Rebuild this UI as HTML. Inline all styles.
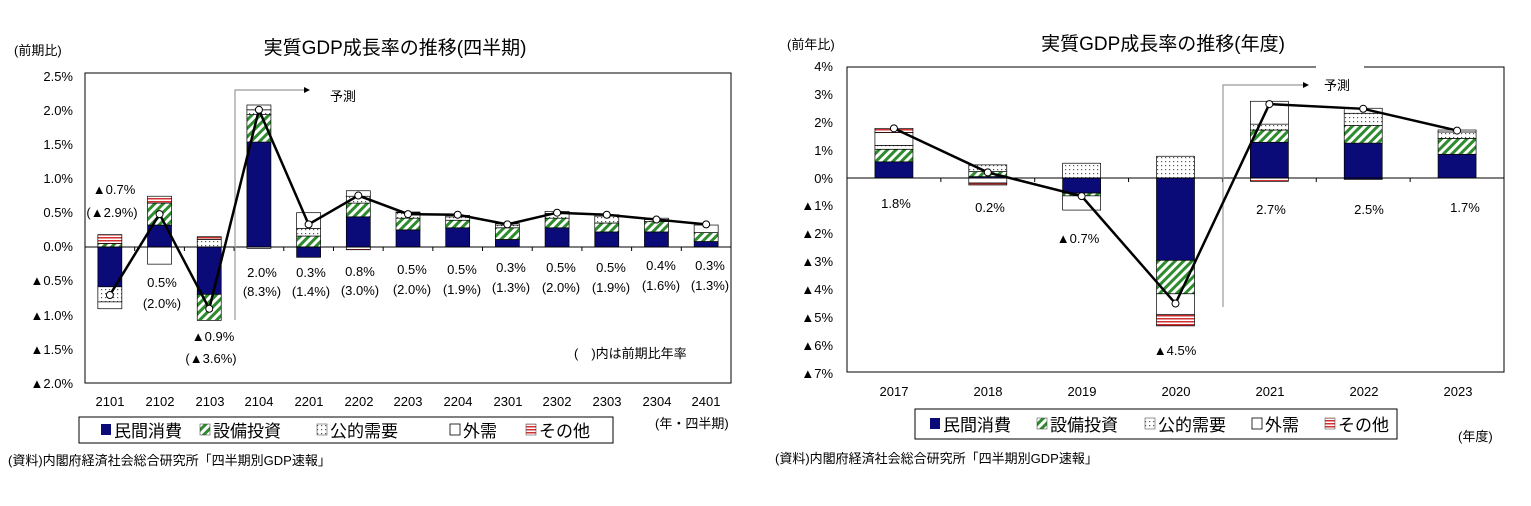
<!DOCTYPE html>
<html><head><meta charset="utf-8">
<style>
html,body{margin:0;padding:0;background:#fff;}
svg{display:block;font-family:"Liberation Sans","Noto Sans CJK JP",sans-serif;}
.t{font-size:13px;fill:#000}
.ti{font-size:19px;fill:#000}
.lg{font-size:17px;fill:#000}
</style></head><body>
<svg id="s" width="1531" height="506" viewBox="0 0 1531 506" xmlns="http://www.w3.org/2000/svg">
<defs>
<pattern id="hg" width="6" height="6" patternUnits="userSpaceOnUse" patternTransform="rotate(45)">
<rect width="6" height="6" fill="#fff"/><rect width="3" height="6" fill="#2e8b2e"/></pattern>
<pattern id="dt" width="4" height="4" patternUnits="userSpaceOnUse">
<rect width="4" height="4" fill="#fff"/><rect x="1" y="1" width="1.2" height="1.2" fill="#555"/></pattern>
<pattern id="rd" width="4" height="3" patternUnits="userSpaceOnUse">
<rect width="4" height="3" fill="#fff"/><rect width="4" height="1.5" fill="#d03030"/></pattern>
</defs>
<g id="L"></g>
<g id="R"></g>

<!-- LEFT texts -->
<text class="ti" x="395" y="54" text-anchor="middle">実質GDP成長率の推移(四半期)</text>
<text class="t" x="14" y="55">(前期比)</text>
<g class="t" text-anchor="end">
<text x="73" y="81">2.5%</text><text x="73" y="115">2.0%</text><text x="73" y="149">1.5%</text>
<text x="73" y="183">1.0%</text><text x="73" y="217">0.5%</text><text x="73" y="251">0.0%</text>
<text x="73" y="285">▲0.5%</text><text x="73" y="320">▲1.0%</text><text x="73" y="354">▲1.5%</text>
<text x="73" y="388">▲2.0%</text>
</g>
<g class="t" text-anchor="middle">
<text x="110" y="406">2101</text><text x="160" y="406">2102</text><text x="210" y="406">2103</text>
<text x="259" y="406">2104</text><text x="309" y="406">2201</text><text x="359" y="406">2202</text>
<text x="408" y="406">2203</text><text x="458" y="406">2204</text><text x="508" y="406">2301</text>
<text x="557" y="406">2302</text><text x="607" y="406">2303</text><text x="657" y="406">2304</text>
<text x="706" y="406">2401</text>
<text x="114" y="194">▲0.7%</text><text x="112" y="217">(▲2.9%)</text>
<text x="162" y="287">0.5%</text><text x="162" y="308">(2.0%)</text>
<text x="213" y="341">▲0.9%</text><text x="211" y="363">(▲3.6%)</text>
<text x="262" y="277">2.0%</text><text x="262" y="296">(8.3%)</text>
<text x="311" y="277">0.3%</text><text x="311" y="296">(1.4%)</text>
<text x="360" y="276">0.8%</text><text x="360" y="295">(3.0%)</text>
<text x="412" y="274">0.5%</text><text x="412" y="294">(2.0%)</text>
<text x="462" y="274">0.5%</text><text x="462" y="294">(1.9%)</text>
<text x="511" y="272">0.3%</text><text x="511" y="292">(1.3%)</text>
<text x="561" y="272">0.5%</text><text x="561" y="292">(2.0%)</text>
<text x="611" y="272">0.5%</text><text x="611" y="292">(1.9%)</text>
<text x="661" y="270">0.4%</text><text x="661" y="290">(1.6%)</text>
<text x="710" y="270">0.3%</text><text x="710" y="290">(1.3%)</text>
</g>
<text class="t" x="574" y="358">(　)内は前期比年率</text>
<text class="t" x="330" y="101">予測</text>
<rect x="79" y="417" width="534" height="26" fill="none" stroke="#000" stroke-width="1"/>
<g class="lg">
<rect x="101" y="424" width="10" height="11" fill="#0a0a78"/><text x="114" y="437">民間消費</text>
<rect x="200" y="424" width="10" height="11" fill="url(#hg)" stroke="#333" stroke-width=".5"/><text x="213" y="437">設備投資</text>
<rect x="317" y="424" width="10" height="11" fill="url(#dt)" stroke="#333" stroke-width=".5"/><text x="330" y="437">公的需要</text>
<rect x="450" y="424" width="10" height="11" fill="#fff" stroke="#000" stroke-width=".8"/><text x="463" y="437">外需</text>
<rect x="526" y="424" width="10" height="11" fill="url(#rd)" stroke="#333" stroke-width=".5"/><text x="539" y="437">その他</text>
</g>
<text class="t" x="655" y="428">(年・四半期)</text>
<text class="t" x="8" y="465">(資料)内閣府経済社会総合研究所「四半期別GDP速報」</text>

<!-- RIGHT texts -->
<text class="ti" x="1163" y="50" text-anchor="middle">実質GDP成長率の推移(年度)</text>
<text class="t" x="787" y="49">(前年比)</text>
<g class="t" text-anchor="end">
<text x="833" y="71">4%</text><text x="833" y="99">3%</text><text x="833" y="127">2%</text>
<text x="833" y="155">1%</text><text x="833" y="183">0%</text><text x="833" y="210">▲1%</text>
<text x="833" y="238">▲2%</text><text x="833" y="266">▲3%</text><text x="833" y="294">▲4%</text>
<text x="833" y="322">▲5%</text><text x="833" y="350">▲6%</text><text x="833" y="378">▲7%</text>
</g>
<g class="t" text-anchor="middle">
<text x="894" y="396">2017</text><text x="988" y="396">2018</text><text x="1082" y="396">2019</text>
<text x="1176" y="396">2020</text><text x="1270" y="396">2021</text><text x="1364" y="396">2022</text>
<text x="1458" y="396">2023</text>
<text x="896" y="208">1.8%</text><text x="990" y="212">0.2%</text><text x="1078" y="243">▲0.7%</text>
<text x="1175" y="355">▲4.5%</text><text x="1271" y="214">2.7%</text><text x="1369" y="214">2.5%</text>
<text x="1465" y="212">1.7%</text>
</g>
<text class="t" x="1324" y="90">予測</text>
<rect x="915" y="409" width="482" height="30" fill="none" stroke="#000" stroke-width="1"/>
<g class="lg">
<rect x="930" y="418" width="10" height="11" fill="#0a0a78"/><text x="943" y="431">民間消費</text>
<rect x="1037" y="418" width="10" height="11" fill="url(#hg)" stroke="#333" stroke-width=".5"/><text x="1050" y="431">設備投資</text>
<rect x="1145" y="418" width="10" height="11" fill="url(#dt)" stroke="#333" stroke-width=".5"/><text x="1158" y="431">公的需要</text>
<rect x="1252" y="418" width="10" height="11" fill="#fff" stroke="#000" stroke-width=".8"/><text x="1265" y="431">外需</text>
<rect x="1325" y="418" width="10" height="11" fill="url(#rd)" stroke="#333" stroke-width=".5"/><text x="1338" y="431">その他</text>
</g>
<text class="t" x="1458" y="441">(年度)</text>
<text class="t" x="775" y="463">(資料)内閣府経済社会総合研究所「四半期別GDP速報」</text>
</svg>
<script>
var NS="http://www.w3.org/2000/svg";
function el(p,n,a){var e=document.createElementNS(NS,n);for(var k in a)e.setAttribute(k,a[k]);p.appendChild(e);return e;}
var F={b:"#0a0a78",g:"url(#hg)",d:"url(#dt)",w:"#fff",r:"url(#rd)"};
function chart(g,x0,x1,y0,y1,zero,px,n,bw,data,line,fc){
 var cw=(x1-x0)/n;
 function Y(v){return zero-v*px;}
 el(g,"rect",{x:x0,y:y0,width:x1-x0,height:y1-y0,fill:"#fff",stroke:"#000","stroke-width":1});
 for(var i=0;i<n;i++){var cx=x0+cw*(i+.5);
  data[i].forEach(function(s){var a=Y(s[1]),b=Y(s[2]);
   el(g,"rect",{x:cx-bw/2,y:Math.min(a,b),width:bw,height:Math.abs(a-b),fill:F[s[0]],stroke:"#000","stroke-width":0.7});});
  el(g,"line",{x1:x0+cw*(i+1),y1:zero,x2:x0+cw*(i+1),y2:zero+4,stroke:"#000"});
 }
 el(g,"line",{x1:x0,y1:zero,x2:x1,y2:zero,stroke:"#000","stroke-width":1});
 el(g,"polyline",{points:fc.v,fill:"none",stroke:"#999","stroke-width":1.2});
 el(g,"polygon",{points:fc.a,fill:"#000"});
 var pts=line.map(function(v,i){return (x0+cw*(i+.5))+","+Y(v);}).join(" ");
 el(g,"polyline",{points:pts,fill:"none",stroke:"#000","stroke-width":2.5});
 line.forEach(function(v,i){el(g,"circle",{cx:x0+cw*(i+.5),cy:Y(v),r:3.5,fill:"#fff",stroke:"#000","stroke-width":1});});
}
chart(document.getElementById("L"),85,731,73,383,247,68.6,13,24,[
 [["g",0,0.05],["r",0.05,0.18],["b",0,-0.58],["d",-0.58,-0.8],["w",-0.8,-0.9]],
 [["b",0,0.32],["g",0.32,0.64],["r",0.64,0.74],["w",0,-0.25]],
 [["d",0,0.11],["r",0.11,0.15],["b",0,-0.69],["g",-0.69,-1.07]],
 [["b",0,1.53],["g",1.53,1.93],["d",1.93,2.0],["w",2.0,2.07],["r",0,-0.02]],
 [["g",0,0.16],["d",0.16,0.27],["w",0.27,0.5],["b",0,-0.15]],
 [["b",0,0.44],["g",0.44,0.64],["d",0.64,0.74],["w",0.74,0.82],["r",0,-0.04]],
 [["b",0,0.25],["g",0.25,0.42],["d",0.42,0.5],["w",0.5,0.51]],
 [["b",0,0.28],["g",0.28,0.39],["d",0.39,0.44],["w",0.44,0.46]],
 [["b",0,0.11],["g",0.11,0.28],["d",0.28,0.32],["w",0.32,0.34]],
 [["b",0,0.28],["g",0.28,0.42],["d",0.42,0.49],["w",0.49,0.52]],
 [["b",0,0.22],["g",0.22,0.35],["d",0.35,0.45],["w",0.45,0.47]],
 [["b",0,0.22],["g",0.22,0.37],["d",0.37,0.4],["w",0.4,0.42]],
 [["b",0,0.08],["g",0.08,0.21],["w",0.21,0.32]]
],[-0.7,0.48,-0.9,2.0,0.33,0.75,0.48,0.47,0.33,0.5,0.47,0.4,0.33],
 {v:"235,320 235,90 304,90",a:"304,87 310,90 304,93"});
chart(document.getElementById("R"),847,1504,67,372,178,27.9,7,38,[
 [["b",0,0.58],["g",0.58,1.03],["d",1.03,1.17],["w",1.17,1.63],["r",1.63,1.78]],
 [["b",0,0.05],["g",0.05,0.23],["d",0.23,0.47],["w",0,-0.18],["r",-0.18,-0.25]],
 [["d",0,0.53],["b",0,-0.54],["g",-0.54,-0.64],["w",-0.64,-1.15]],
 [["d",0,0.78],["b",0,-2.95],["g",-2.95,-4.15],["w",-4.15,-4.9],["r",-4.9,-5.3]],
 [["b",0,1.28],["g",1.28,1.72],["d",1.72,1.93],["w",1.93,2.75],["r",0,-0.12]],
 [["b",0,1.25],["g",1.25,1.88],["d",1.88,2.32],["w",2.32,2.5],["b",0,-0.05]],
 [["b",0,0.85],["g",0.85,1.42],["d",1.42,1.65],["w",1.65,1.72]]
],[1.78,0.2,-0.65,-4.5,2.65,2.48,1.7],
 {v:"1223,307 1223,85 1303,85",a:"1303,82 1309,85 1303,88"});
var R=document.getElementById("R");
el(R,"rect",{x:1316,y:65,width:48,height:4,fill:"#fff"});
</script>
</body></html>
